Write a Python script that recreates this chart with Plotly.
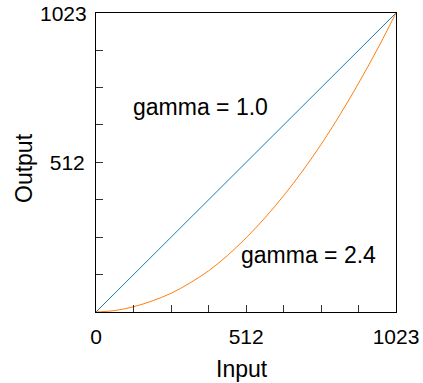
import plotly.graph_objects as go

input_vals = [0, 64, 128, 192, 256, 320, 384, 448, 512, 576, 640, 704, 768, 832, 896, 960, 1023]
out_gamma_10 = [0, 64, 128, 192, 256, 320, 384, 448, 512, 576, 640, 704, 768, 832, 896, 960, 1023]
out_gamma_24 = [0, 5, 18, 38, 64, 99, 141, 193, 254, 322, 398, 482, 574, 675, 784, 900, 1023]

tick_vals = [0, 128, 256, 384, 512, 640, 768, 896, 1023]
x_tick_text = ["0", "", "", "", "512", "", "", "", "1023"]
y_tick_text = ["", "", "", "", "512", "", "", "", ""]
y_top_label = "1023"

font = "Liberation Sans, Arial, sans-serif"
tick_size = 21
title_size = 23

fig = go.Figure()
fig.add_trace(go.Scatter(x=input_vals, y=out_gamma_10, mode="lines",
                         line=dict(color="#1f77b4", width=1), showlegend=False,
                         hoverinfo="skip"))
fig.add_trace(go.Scatter(x=input_vals, y=out_gamma_24, mode="lines", line_shape="spline",
                         line=dict(color="#ff7f0e", width=1), showlegend=False,
                         hoverinfo="skip"))

axis_common = dict(
    range=[0, 1023], tickmode="array", tickvals=tick_vals,
    ticks="inside", ticklen=7, tickwidth=1, tickcolor="#333333",
    showline=True, linecolor="black", linewidth=1, mirror=True,
    showgrid=False, zeroline=False, automargin=False,
    tickfont=dict(family=font, size=tick_size, color="black"),
)

fig.update_xaxes(**axis_common, ticktext=x_tick_text, ticklabelstandoff=6)
fig.update_yaxes(**axis_common, ticktext=y_tick_text, ticklabelstandoff=6)

# top y tick label (would be hidden at the paper edge otherwise)
fig.add_annotation(xref="paper", x=0, yref="y", y=1023, text=y_top_label,
                   showarrow=False, xanchor="right", yanchor="middle", xshift=-7,
                   font=dict(family=font, size=tick_size, color="black"))

# axis titles
fig.add_annotation(xref="paper", x=0.485, yref="paper", y=0, yanchor="middle",
                   yshift=-57, text="Input", showarrow=False,
                   font=dict(family=font, size=title_size, color="black"))
fig.add_annotation(xref="paper", x=0, xanchor="center", xshift=-72,
                   yref="paper", y=0.4816, yanchor="middle", textangle=-90,
                   text="Output", showarrow=False,
                   font=dict(family=font, size=title_size, color="black"))

fig.add_annotation(x=358, y=701, text="gamma = 1.0", showarrow=False,
                   font=dict(family=font, size=23, color="black"))
fig.add_annotation(x=726, y=195, text="gamma = 2.4", showarrow=False,
                   font=dict(family=font, size=23, color="black"))

fig.update_layout(
    width=423, height=383,
    margin=dict(l=96, r=27, t=13, b=71),
    paper_bgcolor="white", plot_bgcolor="white",
)

fig.write_html("out.html", config={"displayModeBar": False},
               post_script="document.body.style.margin='0px';")
